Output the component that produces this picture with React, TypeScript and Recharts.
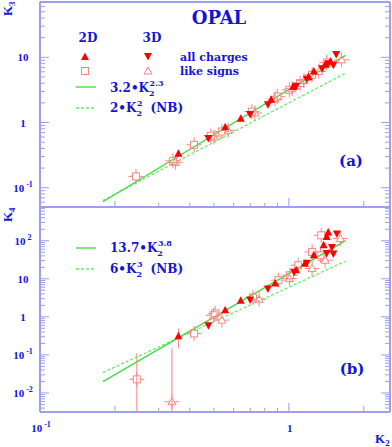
import React from 'react'
import { ScatterChart, Scatter, XAxis, YAxis, ErrorBar } from 'recharts'

const BLUE = '#1414d8'
const FRAME = '#9e9ef0'
const GREEN = '#3ddc3d'
const GREEN_NB = '#66ee66'
const RED = '#ff0000'
const PINK = '#ff8484'
const SERIF = '"DejaVu Serif", serif'
const TIMES = '"Liberation Serif", serif'

// K2 axis, shared by both panels
const xDomain = [0.1, 2.55]
const xTicks = [0.1, 0.2, 0.3, 0.4, 0.5, 0.6, 0.7, 0.8, 0.9, 1, 2]
const xLabels = [
  { v: 0.1, base: '10', sup: '-1' },
  { v: 1, base: '1', sup: '' }
]

// panel (a): K3 vs K2
const yDomainA = [0.0506, 70.5]
const yTicksA = [0.06, 0.07, 0.08, 0.09, 0.1, 0.2, 0.3, 0.4, 0.5, 0.6, 0.7, 0.8, 0.9, 1, 2, 3, 4, 5, 6, 7, 8, 9, 10, 20, 30, 40, 50, 60, 70]
const yLabelsA = [
  { v: 10, base: '10', sup: '' },
  { v: 1, base: '1', sup: '' },
  { v: 0.1, base: '10', sup: '-1' }
]
const aUp = [
  { x: 0.36, y: 0.331 }, { x: 0.555, y: 0.849 }, { x: 0.641, y: 1.14 }, { x: 0.849, y: 2.23 },
  { x: 1.04, y: 3.49 }, { x: 1.2, y: 4.97 }, { x: 1.26, y: 6.06 }, { x: 1.4, y: 7.67 }, { x: 1.47, y: 8.6 }
]
const aDown = [
  { x: 0.475, y: 0.577 }, { x: 0.699, y: 1.35 }, { x: 0.824, y: 1.91 }, { x: 1.07, y: 3.66 },
  { x: 1.18, y: 4.68 }, { x: 1.36, y: 6.8 }, { x: 1.44, y: 8.14 }, { x: 1.51, y: 7.67 }, { x: 1.55, y: 11.2 }
]
const aSquare = [
  { x: 0.243, y: 0.149 }, { x: 0.342, y: 0.259 }, { x: 0.416, y: 0.455 }, { x: 0.486, y: 0.625 },
  { x: 0.538, y: 0.728 }, { x: 0.71, y: 1.47 }, { x: 0.9, y: 2.5 }, { x: 1.005, y: 3.17 },
  { x: 1.11, y: 4.02 }, { x: 1.24, y: 5.4 }, { x: 1.42, y: 8.3 }
]
const aTriangle = [
  { x: 0.35, y: 0.245 }, { x: 0.5, y: 0.6 }, { x: 0.57, y: 0.76 }, { x: 0.73, y: 1.4 },
  { x: 0.88, y: 2.3 }, { x: 1.03, y: 3.3 }, { x: 1.15, y: 4.4 }, { x: 1.32, y: 6.06 }, { x: 1.63, y: 9.14 }
]
const aFit = [{ x: 0.179, y: 0.061 }, { x: 1.69, y: 10.7 }]
const aNB = [{ x: 0.179, y: 0.064 }, { x: 1.69, y: 5.71 }]

// panel (b): K4 vs K2
const yDomainB = [0.00316, 770]
const yTicksB = [
  0.004, 0.005, 0.006, 0.007, 0.008, 0.009,
  0.01, 0.02, 0.03, 0.04, 0.05, 0.06, 0.07, 0.08, 0.09,
  0.1, 0.2, 0.3, 0.4, 0.5, 0.6, 0.7, 0.8, 0.9,
  1, 2, 3, 4, 5, 6, 7, 8, 9,
  10, 20, 30, 40, 50, 60, 70, 80, 90,
  100, 200, 300, 400, 500, 600, 700
]
const yLabelsB = [
  { v: 100, base: '10', sup: '2' },
  { v: 10, base: '10', sup: '' },
  { v: 1, base: '1', sup: '' },
  { v: 0.1, base: '10', sup: '-1' },
  { v: 0.01, base: '10', sup: '-2' }
]
const bUp = [
  { x: 0.555, y: 1.5 }, { x: 0.641, y: 2.63 }, { x: 0.881, y: 7.5 }, { x: 1.07, y: 16.8 },
  { x: 1.16, y: 25 }, { x: 1.26, y: 41.6 }, { x: 1.38, y: 76 }, { x: 1.42, y: 125 }, { x: 1.44, y: 165 }
]
const bDown = [
  { x: 0.475, y: 0.605 }, { x: 0.699, y: 2.86 }, { x: 0.824, y: 5.56 }, { x: 1.05, y: 15.2 },
  { x: 1.18, y: 26.2 }, { x: 1.42, y: 47.8 }, { x: 1.49, y: 68.8 }, { x: 1.51, y: 46 }, { x: 1.56, y: 155 }
]
const bSquare = [
  { x: 0.416, y: 0.367 }, { x: 0.498, y: 1.1 }, { x: 0.506, y: 1.23 }, { x: 0.717, y: 3.23 },
  { x: 0.908, y: 9.2 }, { x: 1.01, y: 12.4 }, { x: 1.09, y: 22.7 }, { x: 1.24, y: 50.8 },
  { x: 1.34, y: 41.6 }, { x: 1.35, y: 139 }
]
const bTriangle = [
  { x: 0.538, y: 0.82 }, { x: 0.76, y: 2.9 }, { x: 1.005, y: 10.2 }, { x: 1.24, y: 18.6 },
  { x: 1.4, y: 30.7 }, { x: 1.61, y: 114 }
]
// the low points with long error bars [down, up]
const bUpErr = [{ x: 0.36, y: 0.311, e: [0.163, 0.185] }]
const bSquareErr = [{ x: 0.245, y: 0.0228, e: [0.0196, 0.087] }]
const bTriangleErr = [{ x: 0.339, y: 0.00588, e: [0.0027, 0.147] }]
const bFit = [{ x: 0.179, y: 0.0198 }, { x: 1.69, y: 100.6 }]
const bNB = [{ x: 0.179, y: 0.0344 }, { x: 1.69, y: 28.96 }]

// ---------- markers ----------
const TriUp = ({ cx, cy }: any) => (
  <path d={`M${cx},${cy - 4.5}L${cx + 4},${cy + 3}L${cx - 4},${cy + 3}Z`} fill={RED} />
)
const TriDown = ({ cx, cy }: any) => (
  <path d={`M${cx},${cy + 4.5}L${cx + 4},${cy - 3}L${cx - 4},${cy - 3}Z`} fill={RED} />
)
const OpenSquare = ({ cx, cy, cross = true }: any) => (
  <g stroke={PINK} fill="none" strokeWidth={1}>
    <rect x={cx - 3.5} y={cy - 3.5} width={7} height={7} />
    {cross && (
      <>
        <line x1={cx - 7.5} x2={cx - 3.5} y1={cy} y2={cy} />
        <line x1={cx + 3.5} x2={cx + 7.5} y1={cy} y2={cy} />
        <line x1={cx} x2={cx} y1={cy - 7.5} y2={cy - 3.5} />
        <line x1={cx} x2={cx} y1={cy + 3.5} y2={cy + 7.5} />
      </>
    )}
  </g>
)
const OpenTri = ({ cx, cy, cross = true }: any) => (
  <g stroke={PINK} fill="none" strokeWidth={1}>
    <path d={`M${cx},${cy - 4}L${cx + 4},${cy + 3}L${cx - 4},${cy + 3}Z`} />
    {cross && (
      <>
        <line x1={cx - 7.5} x2={cx - 2} y1={cy} y2={cy} />
        <line x1={cx + 2} x2={cx + 7.5} y1={cy} y2={cy} />
        <line x1={cx} x2={cx} y1={cy - 7.5} y2={cy - 4} />
        <line x1={cx} x2={cx} y1={cy + 3} y2={cy + 7.5} />
      </>
    )}
  </g>
)
const NoShape = () => <g />

// ---------- ticks ----------
const isDecade = (v: number) => Math.abs(Math.log10(v) - Math.round(Math.log10(v))) < 1e-6
const isTwo = (v: number) => isDecade(v / 2)

const Label = ({ x, y, lab, anchor }: any) => (
  <text x={x} y={y} textAnchor={anchor} fill={BLUE} fontFamily={TIMES} fontWeight="bold" fontSize={11}>
    {lab.base}
    {lab.sup && (
      <tspan dy={-5} fontSize={8}>{' ' + lab.sup}</tspan>
    )}
  </text>
)

const XTick = ({ x, y, payload, side, labels }: any) => {
  const v = payload.value
  const len = isDecade(v) ? 9 : isTwo(v) ? 6 : 4
  const dir = side === 'bottom' ? -1 : 1
  const lab = labels.find((l: any) => Math.abs(l.v - v) < 1e-9)
  return (
    <g>
      <line x1={x} x2={x} y1={y} y2={y + dir * len} stroke={FRAME} strokeWidth={1} />
      {lab && <Label x={x + 1} y={y + 20} lab={lab} anchor="middle" />}
    </g>
  )
}

const YTick = ({ x, y, payload, side, labels }: any) => {
  const v = payload.value
  const len = isDecade(v) ? 9 : 5
  const dir = side === 'left' ? 1 : -1
  const lab = labels.find((l: any) => Math.abs(l.v - v) < 1e-9)
  return (
    <g>
      <line x1={x} x2={x + dir * len} y1={y} y2={y} stroke={FRAME} strokeWidth={1} />
      {lab && <Label x={x - 17} y={y + 4} lab={lab} anchor="middle" />}
    </g>
  )
}

const frameLine = { stroke: FRAME, strokeWidth: 2 }

function Panel({ height, margin, yDomain, yTicks, yLabels, showX, children }: any) {
  return (
    <ScatterChart width={392} height={height} margin={margin}>
      <XAxis
        dataKey="x" type="number" scale="log" domain={xDomain} allowDataOverflow
        ticks={xTicks} interval={0} height={1} tickSize={0} tickMargin={0}
        axisLine={frameLine} tickLine={false}
        tick={(p: any) => <XTick {...p} side="bottom" labels={showX ? xLabels : []} />}
      />
      <XAxis
        xAxisId="t" orientation="top" type="number" scale="log" domain={xDomain} allowDataOverflow
        ticks={xTicks} interval={0} height={1} tickSize={0} tickMargin={0}
        axisLine={frameLine} tickLine={false}
        tick={(p: any) => <XTick {...p} side="top" labels={[]} />}
      />
      <YAxis
        dataKey="y" type="number" scale="log" domain={yDomain} allowDataOverflow
        ticks={yTicks} interval={0} width={40} tickSize={0} tickMargin={0}
        axisLine={frameLine} tickLine={false}
        tick={(p: any) => <YTick {...p} side="left" labels={yLabels} />}
      />
      <YAxis
        yAxisId="r" orientation="right" type="number" scale="log" domain={yDomain} allowDataOverflow
        ticks={yTicks} interval={0} width={1} tickSize={0} tickMargin={0}
        axisLine={frameLine} tickLine={false}
        tick={(p: any) => <YTick {...p} side="right" labels={[]} />}
      />
      {children}
    </ScatterChart>
  )
}

const fitLine = (data: any[], dashed: boolean) => (
  <Scatter
    data={data}
    line={{ stroke: dashed ? GREEN_NB : GREEN, strokeWidth: 1.3, strokeDasharray: dashed ? '3 2' : undefined }}
    shape={NoShape}
    isAnimationActive={false}
  />
)

// K2 with stacked sub/superscript: sub goes down 4, sup sits 6 above baseline
const sub = (s: string) => <tspan dy={4} fontSize={8}>{s}</tspan>
const sup = (s: string) => <tspan dx={-5} dy={-10} fontSize={8}>{s}</tspan>

export default function App() {
  return (
    <div style={{ position: 'absolute', left: 0, top: 0, width: 392, height: 447, background: '#fff' }}>
      <div style={{ position: 'absolute', left: 0, top: 0 }}>
        <Panel height={210} margin={{ top: 1, right: 1, bottom: 2, left: 0 }}
          yDomain={yDomainA} yTicks={yTicksA} yLabels={yLabelsA} showX={false}>
          {fitLine(aNB, true)}
          {fitLine(aFit, false)}
          <Scatter data={aSquare} shape={OpenSquare} isAnimationActive={false} />
          <Scatter data={aTriangle} shape={OpenTri} isAnimationActive={false} />
          <Scatter data={aUp} shape={TriUp} isAnimationActive={false} />
          <Scatter data={aDown} shape={TriDown} isAnimationActive={false} />
        </Panel>
      </div>
      <div style={{ position: 'absolute', left: 0, top: 0 }}>
        <Panel height={447} margin={{ top: 206, right: 1, bottom: 34, left: 0 }}
          yDomain={yDomainB} yTicks={yTicksB} yLabels={yLabelsB} showX={true}>
          {fitLine(bNB, true)}
          {fitLine(bFit, false)}
          <Scatter data={bSquare} shape={OpenSquare} isAnimationActive={false} />
          <Scatter data={bSquareErr} shape={OpenSquare} isAnimationActive={false}>
            <ErrorBar dataKey="e" direction="y" width={0} stroke={PINK} strokeWidth={1} />
          </Scatter>
          <Scatter data={bTriangle} shape={OpenTri} isAnimationActive={false} />
          <Scatter data={bTriangleErr} shape={OpenTri} isAnimationActive={false}>
            <ErrorBar dataKey="e" direction="y" width={0} stroke={PINK} strokeWidth={1} />
          </Scatter>
          <Scatter data={bUp} shape={TriUp} isAnimationActive={false} />
          <Scatter data={bUpErr} shape={TriUp} isAnimationActive={false}>
            <ErrorBar dataKey="e" direction="y" width={0} stroke={PINK} strokeWidth={1} />
          </Scatter>
          <Scatter data={bDown} shape={TriDown} isAnimationActive={false} />
        </Panel>
      </div>

      {/* titles, legend */}
      <svg width={392} height={447} style={{ position: 'absolute', left: 0, top: 0, pointerEvents: 'none' }}>
        <g fill={BLUE} fontFamily={SERIF} fontWeight="bold">
          <text x={219} y={24} fontSize={18} textAnchor="middle">OPAL</text>
          <text x={88} y={42} fontSize={12} textAnchor="middle">2D</text>
          <text x={152} y={42} fontSize={12} textAnchor="middle">3D</text>
          <text x={180} y={61} fontSize={11}>all charges</text>
          <text x={180} y={75} fontSize={11}>like signs</text>
          <text x={110} y={92} fontSize={12}>3.2•K{sub('2')}{sup('2.3')}</text>
          <text x={110} y={112} fontSize={12}>2•K{sub('2')}{sup('2')}<tspan dy={6} dx={8}>(NB)</tspan></text>
          <text x={110} y={252} fontSize={12}>13.7•K{sub('2')}{sup('3.8')}</text>
          <text x={110} y={273} fontSize={12}>6•K{sub('2')}{sup('3')}<tspan dy={6} dx={8}>(NB)</tspan></text>
          <text x={351} y={166} fontSize={15} textAnchor="middle">(a)</text>
          <text x={352} y={374} fontSize={15} textAnchor="middle">(b)</text>
        </g>
        <g fill={BLUE} fontFamily={TIMES} fontWeight="bold" fontSize={13}>
          <text transform="translate(12,16) rotate(-90)">K<tspan dy={3} fontSize={9}>3</tspan></text>
          <text transform="translate(12,222) rotate(-90)">K<tspan dy={3} fontSize={9}>4</tspan></text>
          <text x={375} y={443}>K<tspan dy={3} fontSize={9}>2</tspan></text>
        </g>
        <TriUp cx={85} cy={57} />
        <TriDown cx={148} cy={56} />
        <OpenSquare cx={85} cy={71} cross={false} />
        <OpenTri cx={148} cy={71} cross={false} />
        <line x1={76} x2={96} y1={87} y2={87} stroke={GREEN} strokeWidth={1.3} />
        <line x1={76} x2={96} y1={108} y2={108} stroke={GREEN_NB} strokeWidth={1.3} strokeDasharray="3 2" />
        <line x1={76} x2={96} y1={248} y2={248} stroke={GREEN} strokeWidth={1.3} />
        <line x1={76} x2={96} y1={269} y2={269} stroke={GREEN_NB} strokeWidth={1.3} strokeDasharray="3 2" />
      </svg>
    </div>
  )
}
